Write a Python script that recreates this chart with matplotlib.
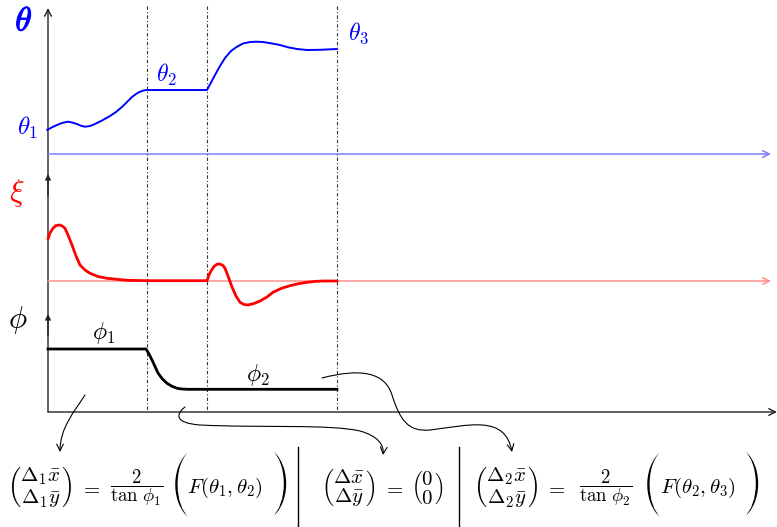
import numpy as np
import matplotlib.pyplot as plt
import matplotlib.patheffects as pe
from matplotlib.patches import FancyArrowPatch
from matplotlib.path import Path

plt.rcParams['mathtext.fontset'] = 'cm'

# sample positions of each trace (x along the time axis, y downward on the canvas)
theta_t = [47, 52, 57, 62, 68, 72, 77, 81, 85, 90, 95, 102, 110, 116, 122, 127, 132, 136, 140, 144, 147,
           207, 211, 215, 220, 225, 231, 237, 243, 250, 256, 263, 271, 280, 288, 297, 307, 320, 337]
theta_v = [130, 127.3, 125, 123, 121.7, 122.5, 124, 125.8, 126.7, 126, 124, 120.5, 116, 112, 107, 102, 97,
           94, 91.7, 90.4, 90, 90, 82.5, 75, 66, 58, 51, 46.7, 43.5, 42, 41.7, 42, 43.3, 45, 47.3, 49, 50,
           49.8, 49]

xi_t = [48, 50, 53, 56, 60, 63, 65, 68, 72, 76, 80, 85, 90, 98, 107, 127, 147, 207, 209, 211, 214, 217,
        220, 223, 225, 228, 232, 236, 240, 244, 248, 254, 260, 267, 273, 281, 290, 298, 307, 315, 323, 337]
xi_v = [239, 233, 228.3, 225.5, 225, 226.5, 228.3, 235, 245, 256, 265, 270, 273.3, 276.5, 278.3, 280.3,
        280.7, 280.7, 275, 271, 266.5, 264.2, 264, 265.5, 268.3, 276, 287, 296, 302.3, 304.5, 305, 303.5,
        301, 297, 292.3, 288.5, 285.7, 283.8, 282.3, 281.4, 281, 281]

phi_t = [48, 146, 149, 152, 155, 158, 162, 167, 172, 177, 182, 188, 337]
phi_v = [349, 349, 354, 360, 366.5, 373, 378.5, 383.3, 386.3, 388.3, 389, 389.3, 389.3]

switch_times = [147, 207, 337]

fig = plt.figure(figsize=(7.77, 5.27), dpi=100)
ax = fig.add_axes([0, 0, 1, 1])
ax.set_xlim(0, 777)
ax.set_ylim(527, 0)
ax.axis('off')


def arrow_line(p0, p1, color, lw, style='->', scale=12):
    ax.add_patch(FancyArrowPatch(p0, p1, arrowstyle=style, mutation_scale=scale,
                                 color=color, lw=lw, shrinkA=0, shrinkB=0))


# axes of the three stacked plots
arrow_line((48, 412), (48, 8), '#222222', 1.0)
arrow_line((48, 195), (48, 174), '#222222', 1.0, '-|>', 8)
arrow_line((48, 335), (48, 314), '#222222', 1.0, '-|>', 8)
arrow_line((48, 154), (771, 154), '#7f7fff', 1.1)
arrow_line((48, 281), (771, 281), '#ff9090', 1.1)
arrow_line((48, 412), (777, 412), '#222222', 1.0)

for t in switch_times:
    ax.plot([t, t], [6, 412], color='#333333', lw=0.8, ls=(0, (3, 2, 1, 2)))

ax.plot(theta_t, theta_v, color='blue', lw=1.4, solid_capstyle='round')
ax.plot(xi_t, xi_v, color='red', lw=2.0, solid_capstyle='round')
ax.plot(phi_t, phi_v, color='black', lw=2.0)

# labels
bold_blue = [pe.withStroke(linewidth=0.8, foreground='blue')]
ax.text(24, 21, r'$\theta$', color='blue', fontsize=24, ha='center', va='center', path_effects=bold_blue)
ax.text(28, 128, r'$\theta_1$', color='blue', fontsize=18, ha='center', va='center')
ax.text(166, 75, r'$\theta_2$', color='blue', fontsize=17, ha='center', va='center')
ax.text(358, 33, r'$\theta_3$', color='blue', fontsize=17, ha='center', va='center')
ax.text(17, 193, r'$\xi$', color='red', fontsize=22, ha='center', va='center')
ax.text(18, 320, r'$\phi$', color='black', fontsize=22, ha='center', va='center')
ax.text(103, 333, r'$\phi_1$', color='black', fontsize=17, ha='center', va='center')
ax.text(258, 375, r'$\phi_2$', color='black', fontsize=17, ha='center', va='center')

# curved pointers down to the formulas
M, C = Path.MOVETO, Path.CURVE4
pointers = [
    [(85, 395), (74, 412), (60, 428), (60, 452)],
    [(185, 407), (176, 414), (174, 423), (200, 425),
     (260, 428), (330, 424), (360, 431),
     (378, 436), (384, 445), (383, 455)],
    [(322, 378), (360, 368), (385, 372), (392, 395),
     (400, 420), (408, 432), (430, 430),
     (470, 425), (505, 415), (512, 452)],
]
for verts in pointers:
    codes = [M] + [C] * (len(verts) - 1)
    ax.add_patch(FancyArrowPatch(path=Path(verts, codes), arrowstyle='->',
                                 mutation_scale=12, color='black', lw=0.8))

# formulas
fy = 488
fs = 15
thin = [pe.Normal(), pe.Stroke(linewidth=1.4, foreground='white')]


def big_paren(x, s):
    ax.text(x, fy - 4, s, fontsize=50, ha='center', va='center', path_effects=thin)


def vec(x, top, bottom):
    ax.text(x, fy, r'$\genfrac{(}{)}{0}{0}{%s}{%s}$' % (top, bottom), fontsize=fs, ha='center', va='center')


vec(40, r'\Delta_1\bar{x}', r'\Delta_1\bar{y}')
ax.text(90, fy, r'$=$', fontsize=fs, ha='center', va='center')
ax.text(137, fy, r'$\dfrac{2}{\tan\,\phi_1}$', fontsize=13.5, ha='center', va='center')
big_paren(180, r'$($')
ax.text(225, fy, r'$F(\theta_1,\theta_2)$', fontsize=fs, ha='center', va='center')
big_paren(278, r'$)$')

vec(348, r'\Delta\bar{x}', r'\Delta\bar{y}')
ax.text(393, fy, r'$=$', fontsize=fs, ha='center', va='center')
vec(428, '0', '0')

vec(506, r'\Delta_2\bar{x}', r'\Delta_2\bar{y}')
ax.text(555, fy, r'$=$', fontsize=fs, ha='center', va='center')
ax.text(606, fy, r'$\dfrac{2}{\tan\,\phi_2}$', fontsize=13.5, ha='center', va='center')
big_paren(652, r'$($')
ax.text(698, fy, r'$F(\theta_2,\theta_3)$', fontsize=fs, ha='center', va='center')
big_paren(750, r'$)$')

for sx in [298, 459]:
    ax.plot([sx, sx], [447, 527], color='black', lw=1.0)

fig.savefig('out.png', dpi=100)
